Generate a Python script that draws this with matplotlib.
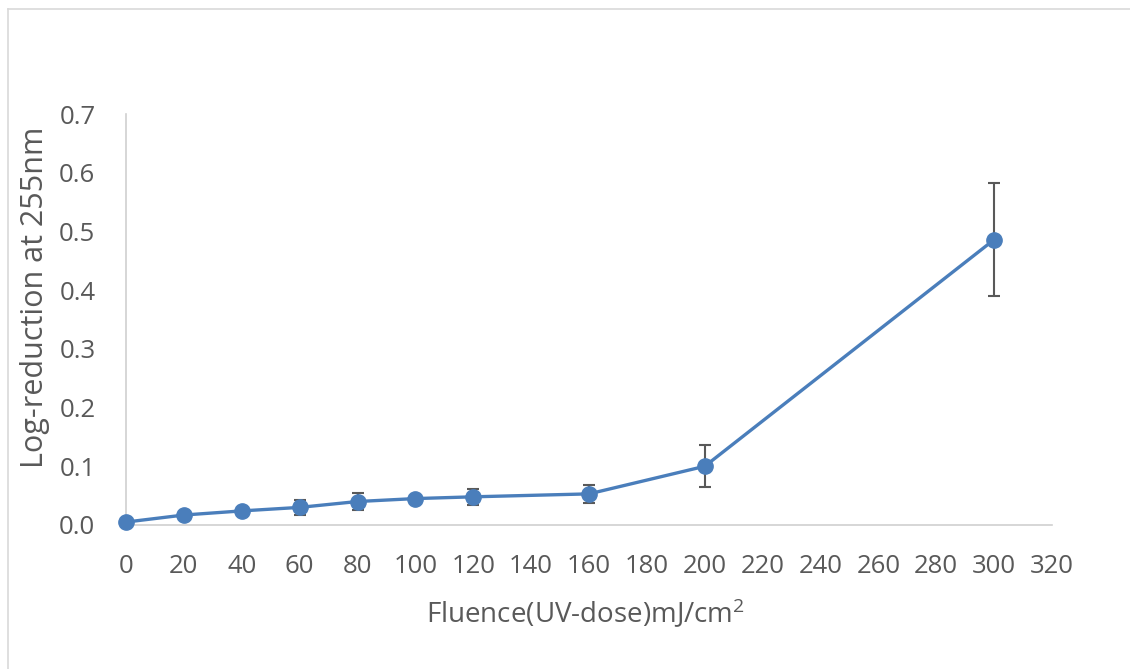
import matplotlib
matplotlib.use("Agg")
import matplotlib.pyplot as plt
from matplotlib.lines import Line2D

# UV fluence (mJ/cm^2) and measured log-reduction at 255 nm
fluence = [0, 20, 40, 60, 80, 100, 120, 160, 200, 300]
log_reduction = [0.005, 0.017, 0.024, 0.030, 0.040, 0.045, 0.048, 0.053, 0.100, 0.486]
std_err = [0.003, 0.004, 0.004, 0.013, 0.015, 0.005, 0.014, 0.015, 0.036, 0.096]

x_ticks = list(range(0, 321, 20))
y_ticks = [0.0, 0.1, 0.2, 0.3, 0.4, 0.5, 0.6, 0.7]

plt.rcParams['font.family'] = ['Open Sans', 'DejaVu Sans']
plt.rcParams['mathtext.fontset'] = 'custom'
plt.rcParams['mathtext.rm'] = 'Open Sans'
plt.rcParams['mathtext.it'] = 'Open Sans'
plt.rcParams['mathtext.default'] = 'regular'

W, H = 1130, 669
fig = plt.figure(figsize=(W / 100, H / 100), dpi=100)
ax = fig.add_axes([126 / W, 1 - 525 / H, (1052 - 126) / W, (525 - 114) / H])

text_color = '#595959'
line_color = '#4A7EBB'

ax.errorbar(fluence, log_reduction, yerr=std_err, fmt='none',
            ecolor='#595959', elinewidth=1.5, capsize=4.0, capthick=1.5, zorder=2)
ax.plot(fluence, log_reduction, color=line_color, linewidth=2.4,
        marker='o', markersize=11, markerfacecolor=line_color,
        markeredgecolor=line_color, zorder=3, clip_on=False)

ax.set_xlim(0, 320)
ax.set_ylim(0, 0.7)
ax.set_xticks(x_ticks)
ax.set_yticks(y_ticks)
ax.set_yticklabels([f"{v:.1f}" for v in y_ticks])

for side in ('top', 'right'):
    ax.spines[side].set_visible(False)
for side in ('left', 'bottom'):
    ax.spines[side].set_color('#D0D0D0')
    ax.spines[side].set_linewidth(1.2)

ax.tick_params(axis='both', length=0, labelsize=18.5, colors=text_color)
ax.tick_params(axis='x', pad=21)
ax.tick_params(axis='y', pad=22)

# axis titles
fig.text(586 / W, 1 - 613 / H, r'Fluence(UV-dose)mJ/cm$^{2}$', fontsize=20,
         color=text_color, ha='center', va='center')
fig.text(35 / W, 1 - 297 / H, 'Log-reduction at 255nm', fontsize=22,
         color=text_color, ha='center', va='center', rotation=90)

# chart-area border along the top and left edges
fig.add_artist(Line2D([7.5 / W, 7.5 / W], [0, 1 - 8.5 / H],
                      transform=fig.transFigure, color='#D9D9D9', linewidth=1.2))
fig.add_artist(Line2D([7.5 / W, 1], [1 - 8.5 / H, 1 - 8.5 / H],
                      transform=fig.transFigure, color='#D9D9D9', linewidth=1.2))

fig.savefig('out.png', dpi=100, facecolor='white')
